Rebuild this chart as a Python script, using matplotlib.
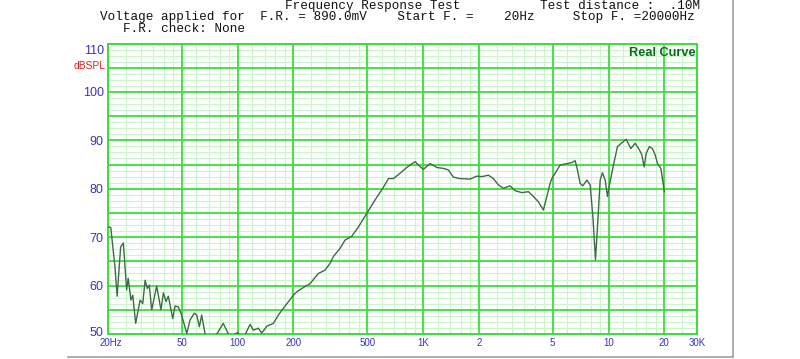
import numpy as np
import matplotlib.pyplot as plt
from matplotlib.transforms import ScaledTranslation

# frequency response (Hz, dBSPL)
freq = [20.1, 20.7, 21.8, 22.4, 23.4, 24.2, 25.2, 25.7, 26.6, 27.2,
        28.2, 29.8, 30.8, 31.7, 32.6, 33.4, 34.4, 36.6, 38.6, 39.8,
        41.1, 42.3, 44.7, 46.0, 47.9, 49.9, 53.2, 55.4, 58.4, 60.2,
        62.2, 64.0, 66.7, 71.0, 77.2, 83.7, 89.1, 92.1, 96.8, 100.5,
        105.6, 116.7, 121.6, 129.3, 134.9, 143.6, 155.9, 165.8, 176.4, 199.8,
        208.5, 226.2, 245.9, 272.5, 296.2, 315.2, 328.4, 356.8, 379.7, 412.7,
        447.9, 497.0, 551.2, 606.5, 650.2, 691.7, 751.6, 816.8, 905.5, 943.4,
        1004, 1091, 1186, 1287, 1369, 1457, 1584, 1793, 1948, 2073,
        2250, 2394, 2548, 2712, 2946, 3135, 3407, 3699, 3936, 4187,
        4455, 4647, 4842, 4946, 5154, 5483, 5960, 6340, 6606, 6747,
        7030, 7269, 7640, 7961, 8236, 8505, 8762, 9016, 9277, 9594,
        9872, 10120, 10633, 11173, 11802, 12448, 13195, 13920, 14684, 15127,
        15565, 15958, 16627, 17258, 17846, 18363, 19155, 20000]
spl = [72.1, 72.0, 63.9, 57.8, 68.0, 68.8, 59.1, 61.5, 57.0, 58.0,
       52.2, 57.0, 56.3, 61.1, 59.4, 60.1, 55.0, 59.9, 55.0, 58.5,
       56.7, 57.8, 53.2, 55.8, 55.6, 53.9, 50.1, 52.9, 54.3, 53.9,
       51.5, 53.9, 50.1, 47.5, 50.0, 52.2, 50.0, 48.5, 50.0, 50.3,
       48.5, 52.0, 50.8, 51.2, 50.2, 51.6, 52.2, 53.9, 55.3, 58.0,
       58.7, 59.6, 60.4, 62.5, 63.2, 64.6, 66.0, 67.7, 69.4, 70.2,
       72.1, 74.9, 77.7, 80.1, 82.1, 82.1, 83.2, 84.4, 85.6, 84.9,
       84.0, 85.2, 84.4, 84.2, 83.9, 82.4, 82.1, 82.0, 82.6, 82.5,
       82.8, 82.1, 80.8, 80.1, 80.6, 79.6, 79.2, 79.4, 78.4, 77.3,
       75.6, 78.4, 81.1, 82.1, 83.2, 84.9, 85.2, 85.4, 85.8, 84.5,
       81.1, 80.6, 81.8, 80.8, 74.2, 65.3, 73.5, 81.8, 83.3, 81.8,
       78.4, 80.8, 84.9, 88.7, 89.5, 90.2, 88.3, 89.4, 88.0, 87.0,
       84.5, 87.3, 88.7, 88.3, 87.0, 85.2, 84.2, 79.4]

x_major = [50, 100, 200, 500, 1000, 2000, 5000, 10000, 20000]
x_minor = [25, 30, 35, 40, 45, 60, 70, 80, 90, 120, 140, 160, 180,
           250, 300, 350, 400, 450, 600, 700, 800, 900,
           1200, 1400, 1600, 1800, 2500, 3000, 3500, 4000, 4500,
           6000, 7000, 8000, 9000, 12000, 14000, 16000, 18000, 25000]
x_ticks = [20, 50, 100, 200, 500, 1000, 2000, 5000, 10000, 20000, 30000]
x_labels = ["20Hz", "50", "100", "200", "500", "1K", "2", "5", "10", "20", "30K"]
y_ticks = [50, 60, 70, 80, 90, 100, 110]

major_c = "#3ade3a"
minor_c = "#cdf3cd"
label_c = "#3535c0"

plt.rcParams["font.family"] = ["Liberation Sans", "DejaVu Sans"]

fig = plt.figure(figsize=(8, 3.59), dpi=100)
ax = fig.add_axes([108 / 800, 25 / 359, 589 / 800, 290.5 / 359])

ax.set_xscale("log")
ax.set_xlim(20, 30000)
ax.set_ylim(50, 110)

for f in x_minor:
    ax.axvline(f, color=minor_c, lw=0.8, zorder=1)
for v in np.arange(50, 110, 1.25):
    if v % 5:
        ax.axhline(v, color=minor_c, lw=0.8, zorder=1)
for f in x_major:
    ax.axvline(f, color=major_c, lw=1.3, zorder=2)
for v in range(55, 110, 5):
    ax.axhline(v, color=major_c, lw=1.3, zorder=2)

ax.plot(freq, spl, color="#3d6b45", lw=1.0, zorder=3)

for s in ax.spines.values():
    s.set_color(major_c)
    s.set_linewidth(1.4)

ax.xaxis.set_minor_locator(plt.NullLocator())
ax.set_xticks(x_ticks)
ax.set_xticklabels(x_labels)
ax.set_yticks(y_ticks)
ax.set_yticklabels([str(v) for v in y_ticks])
ax.tick_params(axis="x", length=0, pad=3, labelsize=7, labelcolor=label_c)
ax.tick_params(axis="y", length=0, pad=3, labelsize=9, labelcolor=label_c)
ylab = ax.get_yticklabels()
ylab[-1].set_transform(ylab[-1].get_transform() + ScaledTranslation(0, -6 / 100, fig.dpi_scale_trans))
ylab[0].set_transform(ylab[0].get_transform() + ScaledTranslation(0, 3 / 100, fig.dpi_scale_trans))
xlab = ax.get_xticklabels()
xlab[0].set_transform(xlab[0].get_transform() + ScaledTranslation(3 / 100, 0, fig.dpi_scale_trans))

fig.text(106 / 800, 1 - 66 / 359, "dBSPL", color="#dd2222", fontsize=7.4,
         ha="right", va="center")
ax.text(0.997, 0.967, "Real Curve", transform=ax.transAxes, color="#0a6a1a",
        fontsize=9.2, fontweight="bold", ha="right", va="center", zorder=5)

mono = dict(family="Liberation Mono", fontsize=9.1, va="center", color="#111111")
fig.text(285 / 800, 1 - 6 / 359, "Frequency Response Test", **mono)
fig.text(540 / 800, 1 - 6 / 359, "Test distance :  .10M", **mono)
fig.text(100 / 800, 1 - 17 / 359,
         "Voltage applied for  F.R. = 890.0mV    Start F. =    20Hz     Stop F. =20000Hz", **mono)
fig.text(123 / 800, 1 - 28.5 / 359, "F.R. check: None", **mono)

# outer frame edges
fig.add_artist(plt.Line2D([68 / 800, 733 / 800], [1 - 357 / 359] * 2, color="#a0a0a0", lw=1.2))
fig.add_artist(plt.Line2D([733 / 800] * 2, [1 - 357 / 359, 1], color="#a0a0a0", lw=1.2))

fig.savefig("out.png", dpi=100)
